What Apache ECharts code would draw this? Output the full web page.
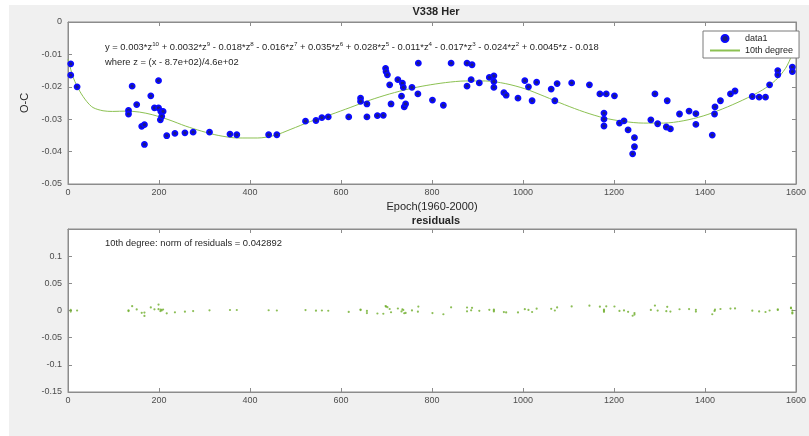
<!DOCTYPE html>
<html>
<head>
<meta charset="utf-8">
<script src="https://cdn.jsdelivr.net/npm/echarts@6/dist/echarts.min.js"></script>
<style>
html,body{margin:0;padding:0;background:#fff;}
#bg{position:absolute;left:9px;top:5px;right:0;bottom:0;background:#f0f0f0;}
#main{position:absolute;left:0;top:0;width:809px;height:436px;}
</style>
</head>
<body>
<div id="bg"></div>
<div id="main"></div>
<script>
// observed O-C points (epoch, O-C) and the residuals of the 10th degree fit
var obsX = [6,6,20,133,133,141,151,162,168,168,182,190,199,199,203,204,206,209,217,235,257,275,311,356,371,441,459,
	522,545,558,572,617,643,643,657,657,680,693,698,699,702,707,710,725,733,735,737,739,742,756,769,770,801,825,842,
	877,877,886,888,904,926,936,936,936,958,963,989,1004,1012,1020,1030,1062,1070,1075,1107,1146,1169,1178,1178,1178,
	1183,1201,1212,1222,1231,1241,1245,1245,1281,1290,1296,1315,1317,1324,1344,1365,1380,1380,1416,1421,1422,1434,
	1456,1466,1504,1519,1533,1542,1560,1560,1589,1589,1592,1592,1592];
var obsY = [-0.0129,-0.0164,-0.0200,-0.0273,-0.0284,-0.0198,-0.0255,-0.0322,-0.0317,-0.0378,-0.0228,-0.0265,-0.0181,
	-0.0265,-0.0302,-0.0276,-0.0291,-0.0276,-0.0351,-0.0344,-0.0342,-0.0340,-0.0340,-0.0346,-0.0348,-0.0348,-0.0348,
	-0.0306,-0.0304,-0.0295,-0.0293,-0.0293,-0.0235,-0.0245,-0.0253,-0.0293,-0.0289,-0.0288,-0.0143,-0.0153,-0.0163,
	-0.0194,-0.0253,-0.0178,-0.0229,-0.0189,-0.0202,-0.0262,-0.0253,-0.0202,-0.0222,-0.0127,-0.0241,-0.0257,-0.0127,
	-0.0127,-0.0198,-0.0178,-0.0132,-0.0188,-0.0171,-0.0166,-0.0184,-0.0202,-0.0218,-0.0226,-0.0235,-0.0181,-0.0200,
	-0.0243,-0.0186,-0.0207,-0.0243,-0.0190,-0.0188,-0.0194,-0.0222,-0.0281,-0.0300,-0.0321,-0.0222,-0.0228,-0.0312,
	-0.0305,-0.0333,-0.0407,-0.0357,-0.0385,-0.0302,-0.0222,-0.0314,-0.0324,-0.0243,-0.0330,-0.0284,-0.0275,-0.0283,
	-0.0316,-0.0349,-0.0284,-0.0262,-0.0243,-0.0222,-0.0213,-0.0230,-0.0232,-0.0232,-0.0194,-0.0150,-0.0163,-0.0056,
	-0.0067,-0.0099,-0.0139,-0.0153];
var resid = [0.0010,-0.0020,0.0000,0.0002,-0.0010,0.0080,0.0020,-0.0043,-0.0039,-0.0099,0.0056,0.0022,0.0109,0.0025,
	-0.0010,0.0017,0.0002,0.0018,-0.0052,-0.0034,-0.0022,-0.0010,0.0004,0.0009,0.0009,0.0005,0.0000,0.0007,-0.0004,
	0.0000,-0.0005,-0.0027,0.0018,0.0008,-0.0008,-0.0048,-0.0055,-0.0060,0.0082,0.0072,0.0061,0.0028,-0.0032,0.0037,
	-0.0017,0.0022,0.0009,-0.0051,-0.0044,0.0002,-0.0022,0.0073,-0.0048,-0.0069,0.0058,0.0055,-0.0016,0.0004,0.0050,
	-0.0006,0.0012,0.0018,0.0000,-0.0018,-0.0029,-0.0036,-0.0035,0.0025,0.0010,-0.0028,0.0034,0.0031,0.0000,0.0056,
	0.0075,0.0089,0.0070,0.0015,-0.0004,-0.0025,0.0076,0.0074,-0.0007,0.0002,-0.0025,-0.0097,-0.0047,-0.0075,0.0010,
	0.0090,-0.0002,-0.0013,0.0068,-0.0020,0.0023,0.0026,0.0013,-0.0020,-0.0069,-0.0007,0.0015,0.0028,0.0036,0.0038,
	-0.0004,-0.0017,-0.0028,0.0000,0.0022,0.0009,0.0052,0.0041,0.0000,-0.0039,-0.0053];
// fitted curve
var fitX = [0,12,26,41,55,77,98,128,157,185,222,258,294,330,374,417,454,490,533,577,620,664,707,751,787,830,874,917,
	961,1004,1048,1091,1135,1178,1222,1265,1309,1352,1396,1439,1483,1526,1555,1577,1591,1600];
var fitY = [-0.0115,-0.0173,-0.0214,-0.0245,-0.0264,-0.0274,-0.0276,-0.0275,-0.0278,-0.0286,-0.0302,-0.0321,-0.0337,
	-0.0350,-0.0358,-0.0358,-0.0350,-0.0331,-0.0307,-0.0286,-0.0264,-0.0241,-0.0222,-0.0206,-0.0196,-0.0187,-0.0182,
	-0.0182,-0.0190,-0.0206,-0.0230,-0.0255,-0.0278,-0.0296,-0.0307,-0.0312,-0.0312,-0.0305,-0.0290,-0.0268,-0.0241,
	-0.0210,-0.0180,-0.0143,-0.0102,-0.0065];

var FONT = '"Liberation Sans", Arial, sans-serif';
var txtCol = '#4d4d4d';
var boxCol = '#8c8c8c';
var green = '#8cc152';

var obsData = [], resData = [], fitData = [];
for (var i = 0; i < obsX.length; i++) {
	obsData.push([obsX[i], obsY[i]]);
	resData.push([obsX[i], resid[i]]);
}
for (var j = 0; j < fitX.length; j++) {
	fitData.push([fitX[j], fitY[j]]);
}

function xAx(grid, pos, labels, name) {
	return {
		type: 'value', gridIndex: grid, position: pos, min: 0, max: 1600, interval: 200,
		name: name || '', nameLocation: 'middle', nameGap: 17,
		nameTextStyle: {color: '#262626', fontSize: 11, fontFamily: FONT},
		axisLine: {show: true, onZero: false, lineStyle: {color: boxCol}},
		axisTick: {show: true, inside: true, length: 4, lineStyle: {color: boxCol}},
		axisLabel: {show: labels, color: txtCol, fontSize: 9, fontFamily: FONT, margin: 4,
			formatter: function (v) { return String(v); }},
		splitLine: {show: false}
	};
}
function yAx(grid, pos, labels, min, max, step, name) {
	return {
		type: 'value', gridIndex: grid, position: pos, min: min, max: max, interval: step,
		name: name || '', nameLocation: 'middle', nameGap: 28, nameRotate: 90,
		nameTextStyle: {color: '#262626', fontSize: 11, fontFamily: FONT},
		axisLine: {show: true, onZero: false, lineStyle: {color: boxCol}},
		axisTick: {show: true, inside: true, length: 4, lineStyle: {color: boxCol}},
		axisLabel: {show: labels, color: txtCol, fontSize: 9, fontFamily: FONT, margin: 6, showMaxLabel: (max <= 0)},
		splitLine: {show: false}
	};
}

var eqText = 'y = 0.003*z{s|10} + 0.0032*z{s|9} - 0.018*z{s|8} - 0.016*z{s|7} + 0.035*z{s|6} + 0.028*z{s|5}' +
	' - 0.011*z{s|4} - 0.017*z{s|3} - 0.024*z{s|2} + 0.0045*z - 0.018';

var chart = echarts.init(document.getElementById('main'), null, {renderer: 'canvas'});
var option = {
	backgroundColor: 'transparent',
	animation: false,
	title: [
		{text: 'V338 Her', left: 436, top: 6, padding: 0, textAlign: 'center',
			textStyle: {fontSize: 11, fontWeight: 'bold', color: '#262626', fontFamily: FONT}},
		{text: 'residuals', left: 436, top: 215, padding: 0, textAlign: 'center',
			textStyle: {fontSize: 11, fontWeight: 'bold', color: '#262626', fontFamily: FONT}}
	],
	legend: {
		left: 703, top: 31, width: 93, orient: 'vertical', itemGap: 3,
		padding: [3, 6, 3, 6],
		backgroundColor: '#fff', borderColor: '#7a7a7a', borderWidth: 1,
		itemWidth: 30, itemHeight: 7,
		textStyle: {fontSize: 9, color: '#262626', fontFamily: FONT},
		data: [
			{name: 'data1', icon: 'circle'},
			{name: '10th degree', itemStyle: {color: 'rgba(0,0,0,0)', borderWidth: 0, opacity: 0}}
		]
	},
	grid: [
		{left: 68, top: 22, width: 736, height: 162, show: true, backgroundColor: '#fff', borderColor: boxCol},
		{left: 68, top: 229, width: 736, height: 163, show: true, backgroundColor: '#fff', borderColor: boxCol}
	],
	xAxis: [
		xAx(0, 'bottom', true, 'Epoch(1960-2000)'),
		xAx(0, 'top', false),
		xAx(1, 'bottom', true),
		xAx(1, 'top', false)
	],
	yAxis: [
		yAx(0, 'left', true, -0.05, 0, 0.01, 'O-C'),
		yAx(0, 'right', false, -0.05, 0, 0.01),
		yAx(1, 'left', true, -0.15, 0.15, 0.05),
		yAx(1, 'right', false, -0.15, 0.15, 0.05)
	],
	graphic: [
		{type: 'text', left: 105, top: 41, z: 10,
			style: {text: eqText, fill: '#262626', font: '9.4px ' + FONT,
				rich: {s: {fontSize: 6.2, fill: '#262626', fontFamily: FONT, padding: [0, 0, 6, 0]}}}},
		{type: 'text', left: 105, top: 58, z: 10,
			style: {text: 'where z = (x - 8.7e+02)/4.6e+02', fill: '#262626', font: '9.4px ' + FONT}},
		{type: 'text', left: 105, top: 239, z: 10,
			style: {text: '10th degree: norm of residuals = 0.042892', fill: '#262626', font: '9.4px ' + FONT}}
	],
	series: [
		{
			name: 'data1', type: 'scatter', xAxisIndex: 0, yAxisIndex: 0,
			symbol: 'circle', symbolSize: 5,
			itemStyle: {color: '#1c1c80', borderColor: '#0a0aff', borderWidth: 1.8, opacity: 1},
			data: obsData, z: 3
		},
		{
			name: '10th degree', type: 'line', xAxisIndex: 0, yAxisIndex: 0,
			showSymbol: false, symbol: 'none', smooth: 0.3,
			lineStyle: {color: green, width: 1},
			itemStyle: {color: green},
			data: fitData, z: 2
		},
		{
			name: 'residuals', type: 'scatter', xAxisIndex: 2, yAxisIndex: 2,
			symbol: 'circle', symbolSize: 2.2,
			itemStyle: {color: '#6fae2c'},
			data: resData
		}
	]
};
chart.setOption(option);
</script>
</body>
</html>
